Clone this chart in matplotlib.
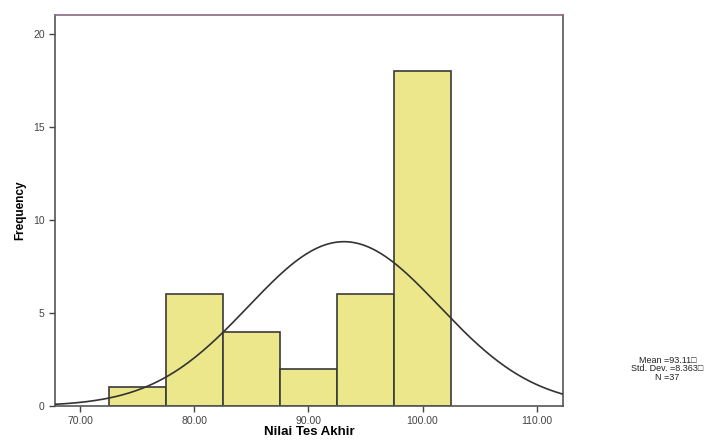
import numpy as np
import matplotlib
matplotlib.use("Agg")
from matplotlib import pyplot as plt

plt.rcParams['font.family'] = ['Liberation Sans', 'DejaVu Sans']

# histogram of final test scores (bins of width 5)
bin_edges = [72.5, 77.5, 82.5, 87.5, 92.5, 97.5, 102.5]
counts = [1, 6, 4, 2, 6, 18]
mean = 93.11
std_dev = 8.363
n = 37

xticks = [70, 80, 90, 100, 110]
yticks = [0, 5, 10, 15, 20]

fig = plt.figure(figsize=(7.16, 4.4), dpi=100)
ax = fig.add_axes([0.0768, 0.0773, 0.7095, 0.8886])

lefts = bin_edges[:-1]
widths = np.diff(bin_edges)
ax.bar(lefts, counts, width=widths, align="edge", color="#EDE78C",
       edgecolor="#3a3a3a", linewidth=1.2, zorder=2)

# normal curve scaled to the counts
xs = np.linspace(67.8, 112.3, 300)
bw = widths[0]
ys = n * bw / (std_dev * np.sqrt(2 * np.pi)) * np.exp(-0.5 * ((xs - mean) / std_dev) ** 2)
ax.plot(xs, ys, color="#333333", linewidth=1.2, zorder=3)

ax.set_xlim(67.8, 112.3)
ax.set_ylim(0, 21.0)
ax.set_xticks(xticks)
ax.set_xticklabels(["%.2f" % t for t in xticks])
ax.set_yticks(yticks)
ax.tick_params(axis="both", labelsize=7.5, colors="#444444", length=4, width=1)
for sp in ax.spines.values():
    sp.set_color("#555555")
    sp.set_linewidth(1.2)
ax.spines["top"].set_color("#8a6a80")

ax.set_xlabel("Nilai Tes Akhir", fontsize=9.5, fontweight="bold", labelpad=0)
ax.set_ylabel("Frequency", fontsize=8.5, fontweight="bold", labelpad=5)

fig.text(0.932, 0.162, "Mean =93.11\u25a1\nStd. Dev. =8.363\u25a1\nN =37",
         ha="center", va="center", fontsize=6.5, linespacing=0.95, color="#222222",
         family=['Liberation Sans', 'DejaVu Sans'])

fig.savefig("out.png", dpi=100)
